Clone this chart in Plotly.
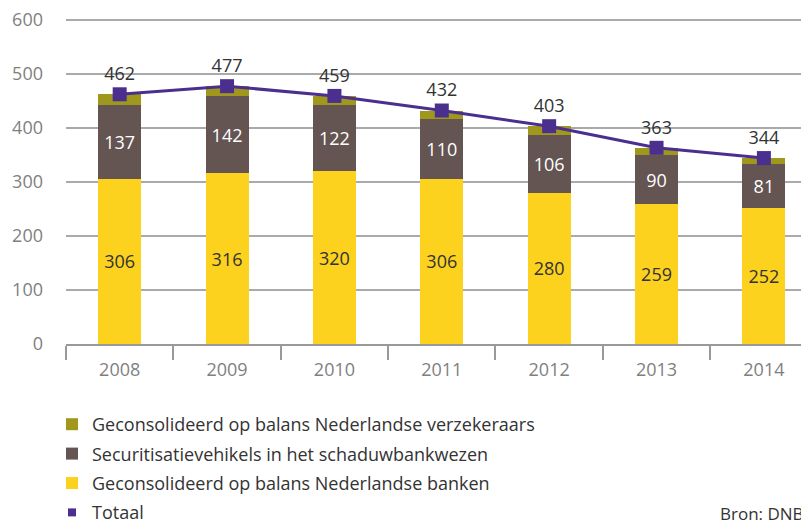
import plotly.graph_objects as go

years = ["2008", "2009", "2010", "2011", "2012", "2013", "2014"]
banken = [306, 316, 320, 306, 280, 259, 252]
securitisatie = [137, 142, 122, 110, 106, 90, 81]
verzekeraars = [19, 19, 17, 16, 17, 14, 11]
totaal = [462, 477, 459, 432, 403, 363, 344]

FONT = "Open Sans"
TXT = "#333333"
AX = "#7f7f7f"
PURPLE = "#4a2f8f"
FS = 18

# page body adds 8px offset; figure drawn in 801x517 box
W, H = 801, 517
YMAX = 605
L, T, PH = 58, 9, 327
B = H - T - PH
PLOT_BOTTOM = T + PH

fig = go.Figure()
fig.add_trace(go.Bar(
    x=years, y=banken, name="Geconsolideerd op balans Nederlandse banken",
    marker=dict(color="#fcd21f", line=dict(width=0)),
    text=banken, textposition="inside", insidetextanchor="middle", textangle=0,
    constraintext="none",
    textfont=dict(color=TXT, size=FS, family=FONT), legendrank=3,
    legendgroup="c"))
fig.add_trace(go.Bar(
    x=years, y=securitisatie, name="Securitisatievehikels in het schaduwbankwezen",
    marker=dict(color="#645452", line=dict(width=0)),
    text=securitisatie, textposition="inside", insidetextanchor="middle", textangle=0,
    constraintext="none",
    textfont=dict(color="white", size=FS, family=FONT), legendrank=2,
    legendgroup="b"))
fig.add_trace(go.Bar(
    x=years, y=verzekeraars, name="Geconsolideerd op balans Nederlandse verzekeraars",
    marker=dict(color="#a0981c", line=dict(width=0)),
    textposition="none", legendrank=1, legendgroup="a"))
fig.add_trace(go.Scatter(
    x=years, y=totaal, name="Totaal", mode="lines+markers+text",
    line=dict(color=PURPLE, width=3),
    marker=dict(symbol="square", size=14, color=PURPLE),
    text=totaal, textposition="top center",
    textfont=dict(color=TXT, size=FS, family=FONT), showlegend=False))
# legend-only entry for the total line
fig.add_trace(go.Scatter(
    x=[None], y=[None], name="Totaal", mode="markers",
    marker=dict(symbol="square", size=8, color=PURPLE),
    legendrank=4, legendgroup="d"))

fig.update_layout(
    width=W, height=H,
    barmode="stack", bargap=0.6,
    plot_bgcolor="white", paper_bgcolor="white",
    margin=dict(l=L, r=0, t=T, b=B, autoexpand=False),
    font=dict(family=FONT, color=TXT, size=FS),
    showlegend=True,
    legend=dict(
        xref="container", yref="container",
        x=44 / W, y=1 - 398 / H, xanchor="left", yanchor="top",
        traceorder="grouped", tracegroupgap=3,
        font=dict(size=FS, color=TXT, family=FONT),
        bgcolor="rgba(0,0,0,0)",
    ),
    annotations=[dict(
        text="Bron: DNB", xref="paper", yref="paper",
        x=(798 - L) / (W - L), y=(PLOT_BOTTOM - 505) / PH,
        xanchor="right", yanchor="middle", showarrow=False,
        font=dict(size=17, color=TXT, family=FONT),
    )],
)

fig.update_xaxes(
    type="category", range=[-0.5, 6.42],
    showgrid=False, showline=True, linecolor="#999999",
    linewidth=1.5, ticks="outside", tickson="boundaries", ticklen=14,
    tickcolor="#999999", tickwidth=1.5, tickangle=0, ticklabelstandoff=9,
    tickfont=dict(size=FS, color=AX, family=FONT),
)
fig.update_yaxes(
    range=[0, YMAX], tickvals=[0, 100, 200, 300, 400, 500, 600],
    showgrid=True, gridcolor="#aaaaaa", gridwidth=1.5, zeroline=False,
    showline=False, ticks="", ticklabelstandoff=22, ticklabeloverflow="allow",
    tickfont=dict(size=FS, color=AX, family=FONT),
)

fig.write_html("out.html")
